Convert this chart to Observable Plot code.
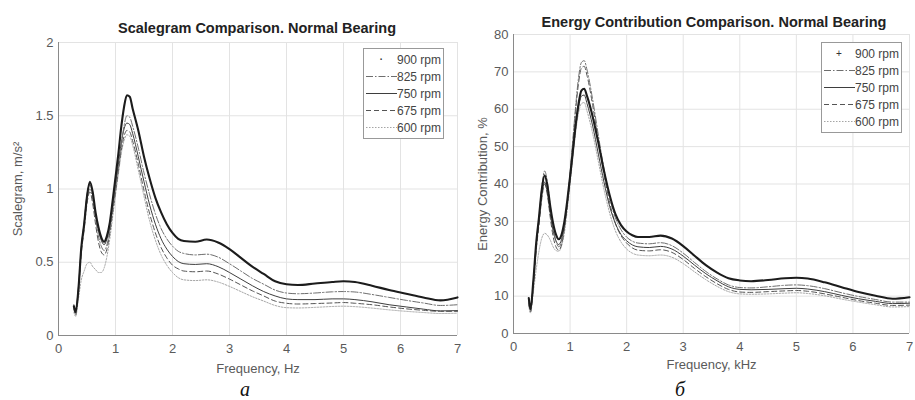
<!DOCTYPE html>
<html><head><meta charset="utf-8">
<script src="https://cdn.jsdelivr.net/npm/d3@7"></script>
<script src="https://cdn.jsdelivr.net/npm/@observablehq/plot@0.6"></script>
<style>
body{margin:0;background:#fff;font-family:"Liberation Sans",Arial,sans-serif;}
#wrap{position:relative;width:915px;height:400px;overflow:hidden;background:#fff;}
.panel{position:absolute;top:0;}
.title{position:absolute;font-weight:bold;font-size:14.5px;color:#222;white-space:nowrap;transform:translateX(-50%);line-height:1;}
.cap{position:absolute;font-family:"Liberation Serif","Times New Roman",serif;font-style:italic;font-size:20px;color:#111;transform:translateX(-50%);line-height:1;}
.legend{position:absolute;border:1px solid #999;background:#fff;font-size:12px;color:#444;padding:2px 2px 2px 1px;box-sizing:border-box;}
.legend .row{display:flex;align-items:center;height:17px;white-space:nowrap;}
.legend svg{display:block;margin-right:0px;}
</style></head><body><div id="wrap"></div>
<script>
// ---- data ----
const freq = [0.27,0.3,0.35,0.4,0.45,0.5,0.55,0.6,0.65,0.7,0.75,0.8,0.85,0.9,0.95,1.0,1.05,1.1,1.15,1.2,1.25,1.3,1.4,1.5,1.6,1.7,1.8,1.9,2.0,2.1,2.2,2.4,2.6,2.8,3.0,3.2,3.4,3.6,3.8,4.0,4.2,4.5,4.8,5.0,5.2,5.5,5.8,6.1,6.4,6.7,7.0];
const seriesNames = ["900 rpm","825 rpm","750 rpm","675 rpm","600 rpm"];

const scalegram900 = [0.20,0.16,0.32,0.60,0.76,0.95,1.05,0.98,0.84,0.74,0.67,0.64,0.68,0.77,0.92,1.08,1.24,1.42,1.56,1.64,1.63,1.55,1.40,1.22,1.07,0.94,0.84,0.76,0.70,0.66,0.645,0.64,0.655,0.635,0.59,0.53,0.47,0.42,0.37,0.35,0.345,0.355,0.365,0.37,0.365,0.34,0.31,0.285,0.26,0.24,0.26];
const scalegram825 = [0.18,0.15,0.30,0.58,0.74,0.92,1.0,0.93,0.80,0.68,0.61,0.58,0.62,0.72,0.86,1.0,1.14,1.30,1.43,1.50,1.49,1.43,1.28,1.11,0.96,0.83,0.73,0.66,0.61,0.575,0.56,0.55,0.555,0.535,0.49,0.44,0.39,0.35,0.31,0.29,0.285,0.29,0.298,0.30,0.297,0.28,0.26,0.24,0.222,0.205,0.21];
const scalegram750 = [0.21,0.17,0.33,0.60,0.77,0.96,1.03,0.96,0.83,0.72,0.65,0.62,0.66,0.75,0.89,1.03,1.17,1.31,1.41,1.45,1.44,1.38,1.22,1.05,0.89,0.76,0.66,0.59,0.54,0.505,0.49,0.485,0.49,0.47,0.43,0.385,0.34,0.30,0.27,0.25,0.245,0.245,0.25,0.25,0.245,0.23,0.21,0.195,0.18,0.168,0.17];
const scalegram675 = [0.19,0.14,0.30,0.56,0.72,0.90,0.98,0.90,0.76,0.64,0.57,0.55,0.59,0.70,0.84,0.98,1.12,1.26,1.36,1.40,1.39,1.33,1.17,0.99,0.83,0.70,0.60,0.53,0.48,0.455,0.44,0.435,0.44,0.42,0.385,0.345,0.305,0.27,0.235,0.22,0.215,0.218,0.222,0.225,0.22,0.21,0.195,0.182,0.172,0.165,0.165];
const scalegram600 = [0.16,0.13,0.25,0.38,0.44,0.49,0.50,0.47,0.45,0.43,0.43,0.46,0.54,0.66,0.81,0.96,1.10,1.24,1.33,1.37,1.36,1.30,1.13,0.95,0.78,0.65,0.55,0.48,0.43,0.395,0.38,0.375,0.38,0.365,0.335,0.30,0.265,0.235,0.205,0.19,0.188,0.192,0.198,0.20,0.197,0.187,0.175,0.165,0.157,0.15,0.152];

const energy900 = [9.5,6.5,14,24,31,38.5,42.3,39.5,34,29.5,26.5,25.2,26.5,30,35.5,42,49,56,61.5,65,65.5,63.5,58,51,43.5,37,32,29,27.3,26.3,25.8,25.8,26.2,25.4,23.4,20.8,18.3,16.3,14.8,14.2,14.0,14.3,14.8,14.9,14.7,13.7,12.4,11.1,10.1,9.3,9.7];
const energy825 = [8.5,6.0,13.5,23.5,31,39,43.5,40.5,34,28.5,24.8,23.2,24.5,28.5,35,43,52,61,68.5,72.5,73,70.5,62.5,53,44,36.5,31,27.8,25.8,24.7,24.2,24.0,24.3,23.5,21.5,19.0,16.6,14.6,13.0,12.3,12.2,12.5,12.9,13.0,12.8,12.0,10.9,9.9,9.1,8.4,8.4];
const energy750 = [9.0,6.3,13.5,23,30,37,40.5,37.5,32,27.5,24.8,23.8,25.2,29,34.5,41,48,55,60.5,63.5,63.8,61.5,55.5,48,40.5,34,29.5,26.5,24.8,23.7,23.2,23.0,23.3,22.6,20.7,18.3,16.0,14.1,12.5,11.8,11.7,11.8,12.0,12.1,11.9,11.2,10.2,9.3,8.6,8.0,8.1];
const energy675 = [8.0,5.8,12.5,22,29,36,40,37,31,26,23.2,22.3,23.8,28,34.5,42.5,51,60,67,71,71.5,69,61,51.5,42.5,35,29.5,26.2,24.2,22.9,22.3,22.1,22.4,21.7,19.8,17.4,15.2,13.3,11.8,11.1,11.0,11.2,11.4,11.5,11.3,10.6,9.7,8.8,8.1,7.5,7.6];
const energy600 = [7.5,5.5,11,17,22,25.5,26.8,26.3,25,23.2,22.2,22.0,23.5,27,33,40,47,54,59,61.5,61.8,59.5,53.5,46,38.5,32.2,27.5,24.5,22.6,21.5,21.0,20.8,21.0,20.4,18.7,16.5,14.4,12.6,11.2,10.6,10.5,10.6,10.8,10.9,10.7,10.1,9.2,8.4,7.7,7.1,7.2];

const freqTicks = [0,1,2,3,4,5,6,7];
const scalegramTicks = [0,0.5,1,1.5,2];
const energyTicks = [0,10,20,30,40,50,60,70,80];

// ---- styles (kept apart from data) ----
const styles = {
  "900 rpm": {stroke:"#1c1c1c", strokeWidth:2.1, dash:null, marker:true},
  "825 rpm": {stroke:"#6e6e6e", strokeWidth:1, dash:"7,2,1.5,2"},
  "750 rpm": {stroke:"#3e3e3e", strokeWidth:1, dash:null},
  "675 rpm": {stroke:"#555", strokeWidth:1, dash:"5,3"},
  "600 rpm": {stroke:"#a5a5a5", strokeWidth:1, dash:"1.5,1.5"}
};

function table(arrays){
  const rows = [];
  seriesNames.forEach((s,i)=>arrays[i].forEach((v,j)=>rows.push({series:s, f:freq[j], v})));
  return rows;
}

function makePanel(cfg){
  const rows = table(cfg.arrays);
  const lines = seriesNames.slice().reverse().map(s => {
    const st = styles[s];
    return Plot.line(rows.filter(d=>d.series===s), {x:"f", y:"v", stroke:st.stroke, strokeWidth:st.strokeWidth, strokeDasharray:st.dash||undefined, curve:"monotone-x"});
  });
  return Plot.plot({
    width:460, height:400,
    marginLeft:cfg.ml, marginRight:cfg.mr, marginTop:cfg.mt, marginBottom:cfg.mb,
    style:{fontSize:"13px", fontFamily:"'Liberation Sans', Arial, sans-serif", color:"#5a5a5a", background:"transparent", overflow:"visible"},
    x:{domain:[0,7], ticks:freqTicks, tickSize:0, tickPadding:8, tickFormat:d3.format("d"), label:cfg.xlabel, labelAnchor:"center", labelOffset:cfg.xlabelOffset, labelArrow:"none"},
    y:{domain:cfg.ydomain, ticks:cfg.yticks, tickSize:0, tickPadding:5, tickFormat:d=>String(d), label:cfg.ylabel, labelAnchor:"center", labelOffset:cfg.ylabelOffset, labelArrow:"none"},
    marks:[
      Plot.ruleX(freqTicks, {stroke:"#e3e3e3"}),
      Plot.ruleY(cfg.yticks, {stroke:"#e3e3e3"}),
      ...lines,
      Plot.ruleX([0], {stroke:"#8a8a8a"}),
      Plot.ruleY([cfg.ydomain[0]], {stroke:"#8a8a8a"})
    ]
  });
}

function makeLegend(left, top, markerChar){
  const div = document.createElement("div");
  div.className = "legend";
  div.style.left = left+"px"; div.style.top = top+"px";
  seriesNames.forEach(s=>{
    const st = styles[s];
    const row = document.createElement("div"); row.className="row";
    const svg = d3.create("svg").attr("width",32).attr("height",17);
    if (st.marker){
      svg.append("text").attr("x",16).attr("y",12).attr("text-anchor","middle").attr("font-size",markerChar==="+"?10:14).attr("fill","#333").text(markerChar);
    } else {
      svg.append("line").attr("x1",1).attr("x2",32).attr("y1",8.5).attr("y2",8.5)
        .attr("stroke",st.stroke).attr("stroke-width",st.strokeWidth).attr("stroke-dasharray",st.dash);
    }
    row.appendChild(svg.node());
    const t = document.createElement("span"); t.textContent = s; row.appendChild(t);
    div.appendChild(row);
  });
  return div;
}

const wrap = document.getElementById("wrap");

const left = makePanel({arrays:[scalegram900,scalegram825,scalegram750,scalegram675,scalegram600],
  ml:58, mr:3, mt:42, mb:65, ydomain:[0,2], yticks:scalegramTicks,
  xlabel:"Frequency, Hz", xlabelOffset:37, ylabel:"Scalegram, m/s\u00B2", ylabelOffset:46});
left.classList.add("panel"); left.style.left="0px";
wrap.appendChild(left);

const right = makePanel({arrays:[energy900,energy825,energy750,energy675,energy600],
  ml:58, mr:6, mt:34, mb:67, ydomain:[0,80], yticks:energyTicks,
  xlabel:"Frequency, kHz", xlabelOffset:35, ylabel:"Energy Contribution, %", ylabelOffset:36});
right.classList.add("panel"); right.style.left="455px";
wrap.appendChild(right);

function addText(cls, text, x, y){
  const d = document.createElement("div"); d.className = cls; d.textContent = text;
  d.style.left = x+"px"; d.style.top = y+"px"; wrap.appendChild(d);
}
addText("title","Scalegram Comparison. Normal Bearing",257,21);
addText("title","Energy Contribution Comparison. Normal Bearing",714,15);
addText("cap","\u0430",245,379);
addText("cap","\u0431",680,379);

wrap.appendChild(makeLegend(363,48,"\u00B7"));
wrap.appendChild(makeLegend(821,42,"+"));
</script></body></html>
